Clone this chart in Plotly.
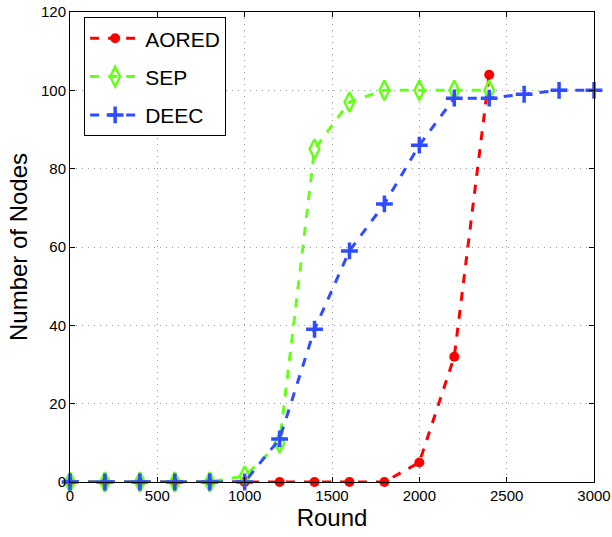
import plotly.graph_objects as go

rounds_aored = [0, 200, 400, 600, 800, 1000, 1200, 1400, 1600, 1800, 2000, 2200, 2400]
aored = [0, 0, 0, 0, 0, 0, 0, 0, 0, 0, 5, 32, 104]
rounds_sep = [0, 200, 400, 600, 800, 1000, 1200, 1400, 1600, 1800, 2000, 2200, 2400]
sep = [0, 0, 0, 0, 0, 1.5, 10, 85, 97, 100, 100, 100, 100]
rounds_deec = [0, 200, 400, 600, 800, 1000, 1200, 1400, 1600, 1800, 2000, 2200, 2400, 2600, 2800, 3000]
deec = [0, 0, 0, 0, 0, 0, 11, 39, 59, 71, 86, 98, 98, 99, 100, 100]

RED = "#ff0000"
GREEN = "#66ff1a"
BLUE = "#2f4cff"

fig = go.Figure()
fig.add_trace(go.Scatter(x=rounds_aored, y=aored, name="AORED", mode="lines+markers",
                         cliponaxis=False, legendgroup="a",
                         line=dict(color=RED, width=3, dash="dash"),
                         marker=dict(symbol="circle", size=10, color=RED)))
fig.add_trace(go.Scatter(x=rounds_sep, y=sep, name="SEP", mode="lines+markers",
                         cliponaxis=False, legendgroup="b",
                         line=dict(color=GREEN, width=3, dash="dash"),
                         marker=dict(symbol="diamond-tall-open", size=14, color=GREEN,
                                     line=dict(width=2.5, color=GREEN))))
fig.add_trace(go.Scatter(x=rounds_deec, y=deec, name="DEEC", mode="lines+markers",
                         cliponaxis=False, legendgroup="c",
                         line=dict(color=BLUE, width=3, dash="dash"),
                         marker=dict(symbol="cross-thin-open", size=12, color=BLUE,
                                     line=dict(width=3.5, color=BLUE))))

axis_common = dict(showline=True, linecolor="black", linewidth=1, mirror="ticks",
                   ticks="inside", ticklen=5, tickcolor="black", automargin=False,
                   showgrid=True, gridcolor="#999999", griddash="1px,5px", gridwidth=1,
                   zeroline=False, tickfont=dict(family="Liberation Sans, Arial", size=15, color="black"))

fig.update_layout(
    width=612, height=537,
    margin=dict(l=70, r=18, t=12, b=55),
    paper_bgcolor="white", plot_bgcolor="white",
    font=dict(family="Liberation Sans, Arial", color="black"),
    xaxis=dict(range=[0, 3000], tickvals=[0, 500, 1000, 1500, 2000, 2500, 3000],
               title=dict(text="Round", font=dict(size=24), standoff=0), **axis_common),
    yaxis=dict(range=[0, 120], tickvals=[0, 20, 40, 60, 80, 100, 120],
               title=dict(text="Number of Nodes", font=dict(size=24), standoff=6), **axis_common),
    legend=dict(x=0.027, y=0.989, xanchor="left", yanchor="top",
                bgcolor="white", bordercolor="black", borderwidth=1,
                font=dict(size=21), itemwidth=50, tracegroupgap=8),
    showlegend=True,
)

fig.write_html("out.html")
